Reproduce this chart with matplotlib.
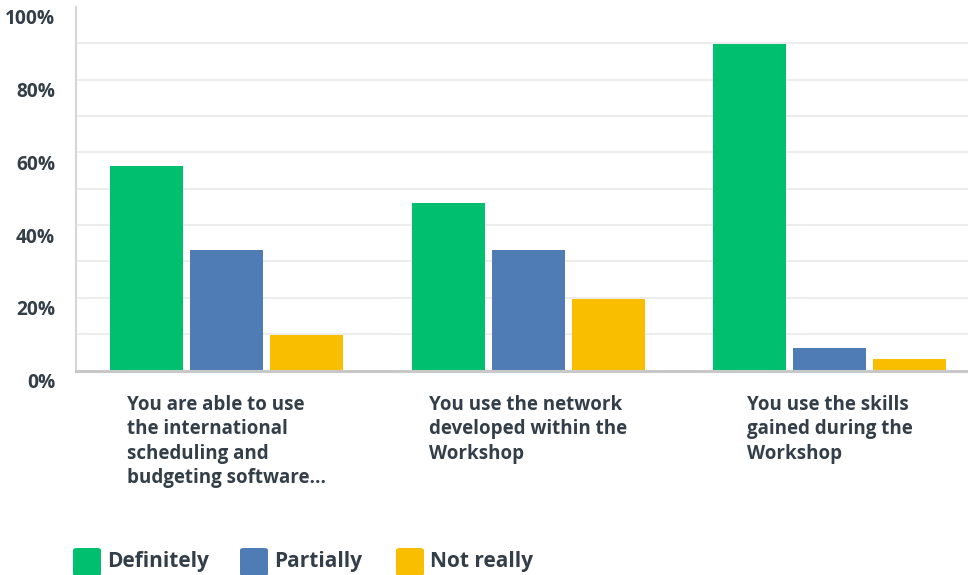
import matplotlib
matplotlib.use("Agg")
import matplotlib.pyplot as plt
import matplotlib.transforms as mtransforms
from matplotlib.patches import FancyBboxPatch
import numpy as np

plt.rcParams['font.family'] = ['Open Sans', 'DejaVu Sans']

categories = [
    "You are able to use\nthe international\nscheduling and\nbudgeting software...",
    "You use the network\ndeveloped within the\nWorkshop",
    "You use the skills\ngained during the\nWorkshop",
]
series_names = ["Definitely", "Partially", "Not really"]
definitely = [56.3, 46.1, 89.7]
partially = [33.2, 33.2, 6.2]
not_really = [9.8, 19.7, 3.2]
y_ticks = [0, 20, 40, 60, 80, 100]
y_tick_labels = ["0%", "20%", "40%", "60%", "80%", "100%"]

colors = ["#00bf6f", "#507cb6", "#f9be00"]
text_color = "#333e48"

W, H = 968, 575
fig = plt.figure(figsize=(W / 100, H / 100), dpi=100)

ax_left, ax_top, ax_bottom = 76, 7, 370.5
ax_width = 904.5
ax = fig.add_axes([ax_left / W, 1 - ax_bottom / H, ax_width / W, (ax_bottom - ax_top) / H])

x = np.arange(len(categories))
bar_w = 0.242
step = 0.265
for i, (vals, c) in enumerate(zip([definitely, partially, not_really], colors)):
    ax.bar(x + (i - 1) * step, vals, width=bar_w, color=c, zorder=3, linewidth=0)

ax.set_xlim(-0.5, 2.5)
ax.set_ylim(0, 100)

# horizontal grid every 10%
for g in range(10, 100, 10):
    ax.axhline(g, color="#ededed", linewidth=1.5, zorder=1)

for s in ["top", "right"]:
    ax.spines[s].set_visible(False)
ax.spines["left"].set_color("#d6d6d6")
ax.spines["left"].set_linewidth(1.5)
ax.spines["bottom"].set_color("#c8c8c8")
ax.spines["bottom"].set_linewidth(2.2)
ax.spines["bottom"].set_zorder(4)

ax.set_yticks(y_ticks)
ax.set_yticklabels(y_tick_labels, fontsize=13.8, fontweight="bold", color=text_color)
ax.tick_params(axis="y", length=0, pad=15)
offset = mtransforms.ScaledTranslation(0, -10 / 100, fig.dpi_scale_trans)
for lbl in ax.get_yticklabels():
    lbl.set_transform(lbl.get_transform() + offset)

ax.set_xticks([])

# category labels below each group: block centred, lines left aligned
for xi, cat in zip(x, categories):
    ax.annotate(cat, xy=(xi, 0), xycoords=("data", "axes fraction"),
                xytext=(0, -24), textcoords="offset pixels",
                ha="center", va="top", multialignment="left",
                fontsize=13.5, fontweight="bold",
                color=text_color, linespacing=1.3)

# legend row along the bottom
legend_items = [(73, series_names[0]), (240, series_names[1]), (396, series_names[2])]
for (px, name), c in zip(legend_items, colors):
    box = FancyBboxPatch((px / W, 1 - 576 / H), 28 / W, 28 / H,
                         boxstyle="round,pad=0,rounding_size=0.004",
                         transform=fig.transFigure, facecolor=c, edgecolor="none")
    fig.patches.append(box)
    fig.text((px + 34) / W, 1 - 561 / H, name, ha="left", va="center",
             fontsize=15, fontweight="bold", color=text_color)

fig.savefig("out.png", dpi=100)
